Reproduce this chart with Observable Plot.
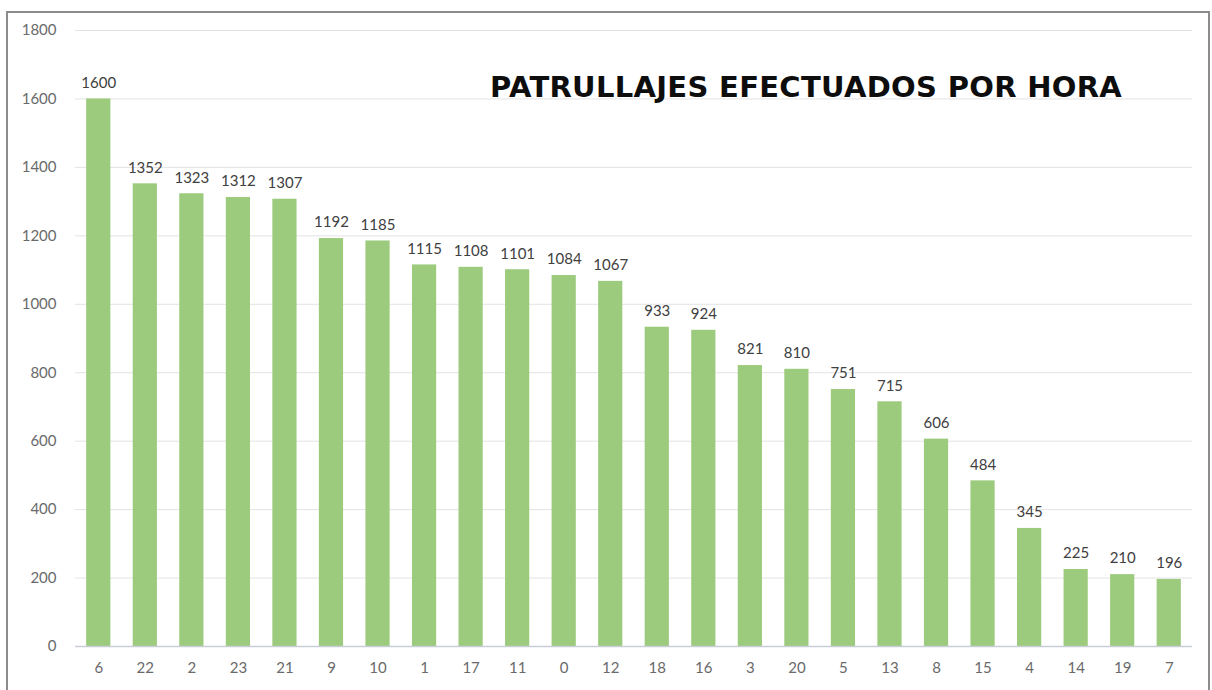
<!DOCTYPE html>
<html><head><meta charset="utf-8">
<script src="https://cdn.jsdelivr.net/npm/d3@7"></script>
<script src="https://cdn.jsdelivr.net/npm/@observablehq/plot@0.6"></script>
<style>
body{margin:0;background:#fff;width:1212px;height:690px;overflow:hidden;position:relative;font-family:Lato,"DejaVu Sans",sans-serif}
#frame{position:absolute;left:6px;top:11px;width:1204px;height:690px;border:2px solid #8c8c8c;border-bottom:none;box-sizing:border-box;pointer-events:none}
#title{position:absolute;left:490px;top:73px;line-height:1;font-family:"DejaVu Sans",sans-serif;font-weight:bold;font-size:29px;color:#0d0d0d;letter-spacing:0.3px;white-space:nowrap}
#chart{position:absolute;left:0;top:0}
</style></head>
<body>
<div id="chart"></div>
<div id="frame"></div>
<div id="title">PATRULLAJES EFECTUADOS POR HORA</div>
<script>
const hours = ["6","22","2","23","21","9","10","1","17","11","0","12","18","16","3","20","5","13","8","15","4","14","19","7"];
const counts = [1600,1352,1323,1312,1307,1192,1185,1115,1108,1101,1084,1067,933,924,821,810,751,715,606,484,345,225,210,196];
const yTicks = [0,200,400,600,800,1000,1200,1400,1600,1800];

const data = hours.map((h,i)=>({hour:h, value:counts[i]}));

const chart = Plot.plot({
  width:1212, height:690,
  marginLeft:75, marginRight:20, marginTop:30, marginBottom:44,
  style:{fontFamily:"Lato, 'DejaVu Sans', sans-serif", fontSize:"15px", color:"#6a6a6a", background:"transparent"},
  x:{domain:hours, paddingInner:0.48, paddingOuter:0.24, round:false, label:null, tickSize:0, tickPadding:16},
  y:{domain:[0,1800], ticks:yTicks, label:null, tickSize:0, tickPadding:19, tickFormat:d=>String(d)},
  marks:[
    Plot.gridY(yTicks,{stroke:"#e3e3e3", strokeOpacity:1, strokeWidth:1}),
    Plot.barY(data,{x:"hour", y:"value", fill:"#9ccb7d"}),
    Plot.ruleY([0],{stroke:"#c8cdd8", strokeWidth:1.5}),
    Plot.text(data,{x:"hour", y:"value", text:d=>String(d.value), dy:-16, fill:"#404040", fontSize:15})
  ]
});
document.getElementById("chart").appendChild(chart);
</script>
</body></html>
